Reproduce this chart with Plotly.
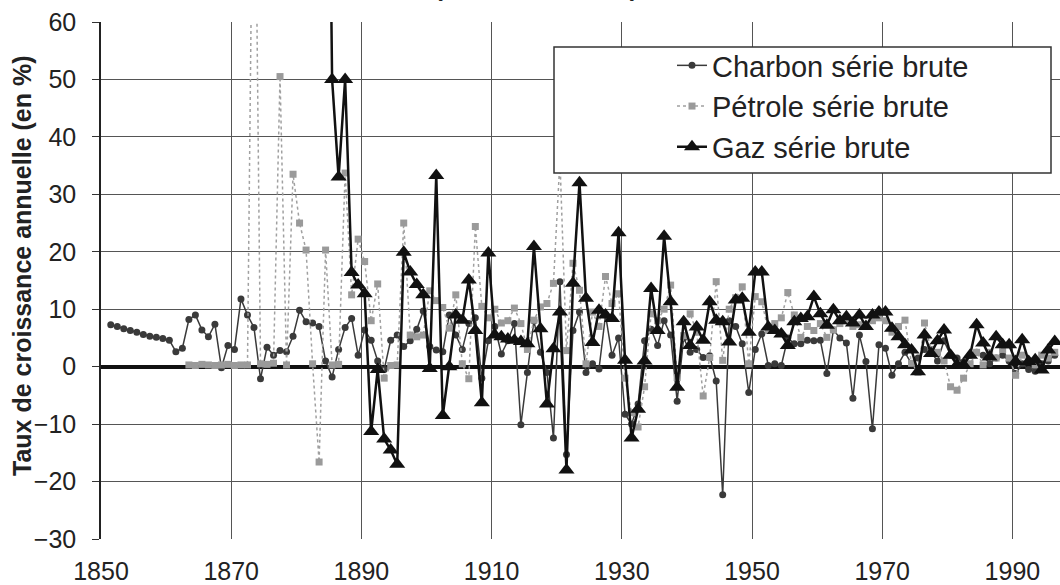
import plotly.graph_objects as go

years = list(range(1851, 1997))

charbon = [
    7.3, 7.0, 6.6, 6.3, 6.0, 5.6, 5.3, 5.1, 4.9, 4.6,
    2.6, 3.2, 8.2, 9.0, 6.4, 5.2, 7.4, -0.2, 3.7, 3.0,
    11.8, 9.0, 6.8, -2.1, 3.4, 2.0, 2.8, 2.6, 5.3, 9.8,
    7.8, 7.6, 7.0, 1.0, -1.8, 3.0, 6.8, 8.4, 2.0, 6.4,
    4.6, 1.0, -0.5, 4.6, 5.5, 3.5, 4.5, 6.5, 9.7, 3.5,
    2.9, 2.6, 9.0, 5.5, 3.0, 7.5, 8.5, -2.0, 4.5, 7.0,
    2.2, 4.5, 7.5, -10.1, -1.0, 8.0, 2.5, -1.0, -12.4, 14.8,
    -15.3, 6.3, 9.5, -1.0, 0.5, -0.4, 9.0, 2.0, 5.0, -8.3,
    -10.0, -6.5, 4.5, 6.5, 3.7, 8.0, 5.5, -6.0, 5.0, 2.5,
    3.0, 1.6, 1.9, -2.5, -22.3, 8.0, 7.0, 4.0, -4.5, 3.0,
    5.7, 0.2, 0.5, 0.2, 5.0, 4.0, 4.0, 4.6, 4.5, 4.6,
    -1.2, 6.4, 5.0, 4.1, -5.5, 5.5, 0.9, -10.8, 3.8, 3.2,
    -1.5, 0.5, 2.5, 0.5, 1.5, 3.0, 2.5, 1.0, 4.5, 2.0,
    1.5, 0.8, 2.0, 2.5, 2.0, 0.5, 1.5, 2.0, 1.0, -1.2,
    0.5, -0.5, -0.8, 0.5, 1.0, 2.0,
]

petrole = [None] * 12 + [
    0.3, 0.2, 0.4, 0.3, 0.2, 0.3, 0.4, 0.2, 0.3, 0.3,
    110.0, 0.5, 0.4, 0.6, 50.5, 0.3, 33.5, 25.0,
    20.3, 0.5, -16.6, 20.3, 0.3, 0.4, 33.7, 12.5, 22.2, 18.3,
    8.0, 14.4, -2.0, 0.2, 0.3, 25.0, 5.5, 5.2, 5.5, 13.2,
    11.5, 10.3, 6.7, 12.5, 0.5, -2.1, 24.4, 10.5, 8.5, 10.0,
    7.6, 8.0, 10.2, 7.5, 3.0, 8.1, 10.4, 11.0, 14.5, 36.0,
    2.8, 18.0, 13.3, 0.5, 9.5, 7.0, 15.7, 11.0, 12.7, -2.0,
    -8.0, -10.5, -3.5, 9.2, 8.0, 10.0, 14.2, -1.9, 5.4, 9.2,
    6.0, -5.1, 1.6, 14.8, 1.1, 10.0, 12.0, 13.9, 0.5, 12.2,
    11.3, 6.3, 7.5, 8.5, 12.9, 9.0, 5.1, 7.0, 6.3, 7.5,
    5.1, 6.4, 7.5, 8.0, 7.0, 7.3, 7.0, 8.0, 8.5, 8.0,
    6.0, 7.0, 8.1, 0.6, -1.0, 7.6, 3.0, 2.5, 1.0, -3.5,
    -4.1, -2.0, 0.5, 2.5, 0.3, 2.5, 1.5, 3.0, 1.5, -1.5,
    2.0, 1.0, 0.3, 2.0, 1.5, 2.5,
]

gaz = [None] * 33 + [
    150.0, 50.0, 33.0, 50.0, 16.4, 14.2, 12.7,
    -11.3, -0.5, -12.6, -14.5, -17.0, 19.9, 16.5, 14.3, 12.5, -0.3,
    33.3, -8.5, 0.0, 9.0, 8.1, 15.1, 6.3, -6.3, 19.8, 5.5,
    5.2, 4.8, 4.6, 4.4, 4.0, 20.9, 6.6, -6.5, 3.1, 9.5,
    -18.0, 14.5, 32.0, 11.9, 4.2, 9.8, 9.0, 8.4, 23.3, 1.1,
    -12.4, -7.4, 1.0, 13.6, 6.3, 22.7, 11.3, -3.6, 7.8, 3.7,
    6.9, 4.6, 11.3, 8.1, 7.8, 4.3, 11.6, 11.9, 6.0, 16.5,
    16.5, 6.9, 6.3, 5.7, 3.7, 7.8, 8.4, 8.7, 12.2, 9.2,
    7.2, 9.9, 8.0, 8.7, 7.6, 9.0, 7.0, 9.0, 9.5, 9.5,
    6.7, 5.2, 3.8, 2.9, -0.9, 5.5, 2.3, 4.5, 6.4, 2.0,
    0.3, 0.3, 2.0, 7.3, 4.1, 1.7, 5.2, 3.8, 3.8, 0.9,
    4.7, 0.9, 1.2, -0.6, 2.9, 4.4,
]

tick_years = [1850, 1870, 1890, 1910, 1930, 1950, 1970, 1990]
series_names = ["Charbon série brute", "Pétrole série brute", "Gaz série brute"]
y_title = "Taux de croissance annuelle (en %)"
top_title = "(1850-1996)"

FONT = "Liberation Sans, Arial, sans-serif"

fig = go.Figure()
fig.add_trace(go.Scatter(
    x=years, y=charbon, name=series_names[0], mode="lines+markers",
    line=dict(color="#3a3a3a", width=1.5),
    marker=dict(symbol="circle", size=7, color="#3a3a3a"),
))
fig.add_trace(go.Scatter(
    x=years, y=petrole, name=series_names[1], mode="lines+markers",
    line=dict(color="#a0a0a0", width=1.5, dash="dot"),
    marker=dict(symbol="square", size=7, color="#9a9a9a"),
))
fig.add_trace(go.Scatter(
    x=years, y=gaz, name=series_names[2], mode="lines+markers",
    line=dict(color="#111111", width=2.5),
    marker=dict(symbol="triangle-up", size=14, color="#111111"),
))

W, H = 1060, 585
L, T, B, R = 101, 22, 46, 0
pw, ph = W - L - R, H - T - B
px_per_year = 6.51

def px_x(px):
    return (px - L) / pw

def px_y(py):
    return 1 - (py - T) / ph

fig.update_layout(
    width=W, height=H,
    margin=dict(l=L, r=R, t=T, b=B, autoexpand=False),
    paper_bgcolor="white", plot_bgcolor="white",
    font=dict(family=FONT, color="#222"),
    showlegend=True,
    legend=dict(
        x=px_x(672), y=px_y(40), xanchor="left", yanchor="top",
        bgcolor="rgba(0,0,0,0)", borderwidth=0,
        font=dict(size=29, family=FONT, color="#222"),
        tracegroupgap=0,
    ),
    xaxis=dict(
        range=[1849.5, 1849.5 + pw / px_per_year],
        tickvals=[t - 0.5 for t in tick_years],
        ticktext=[str(t) for t in tick_years],
        showgrid=True, gridcolor="#555", gridwidth=1,
        zeroline=False, showline=False, ticks="",
        tickfont=dict(size=25, family=FONT, color="#222"),
        ticklabelstandoff=15, automargin=False,
    ),
    yaxis=dict(
        range=[-30, 60], dtick=10, tick0=0,
        showgrid=True, gridcolor="#555", gridwidth=1,
        zeroline=True, zerolinecolor="#111", zerolinewidth=3.5,
        showline=True, linecolor="#222", linewidth=1.5,
        ticks="outside", ticklen=7, tickcolor="#333",
        tickfont=dict(size=25, family=FONT, color="#222"),
        ticklabelstandoff=11, automargin=False,
    ),
    shapes=[
        dict(type="rect", xref="paper", yref="paper",
             x0=px_x(554), x1=px_x(1051), y0=px_y(173), y1=px_y(47),
             fillcolor="white", line=dict(color="#333", width=1.5),
             layer="above"),
    ],
    annotations=[
        dict(text=y_title, xref="paper", yref="paper",
             x=px_x(22), y=px_y(266), xanchor="center", yanchor="middle",
             textangle=-90, showarrow=False,
             font=dict(size=25, family=FONT, color="#222", weight="bold")),
        dict(text=top_title, xref="paper", yref="paper",
             x=px_x(536), y=px_y(3), xanchor="center", yanchor="bottom",
             showarrow=False,
             font=dict(size=39, family=FONT, color="#222")),
    ],
)

fig.write_html("out.html", config={"displayModeBar": False},
               post_script="document.body.style.margin='0';")
